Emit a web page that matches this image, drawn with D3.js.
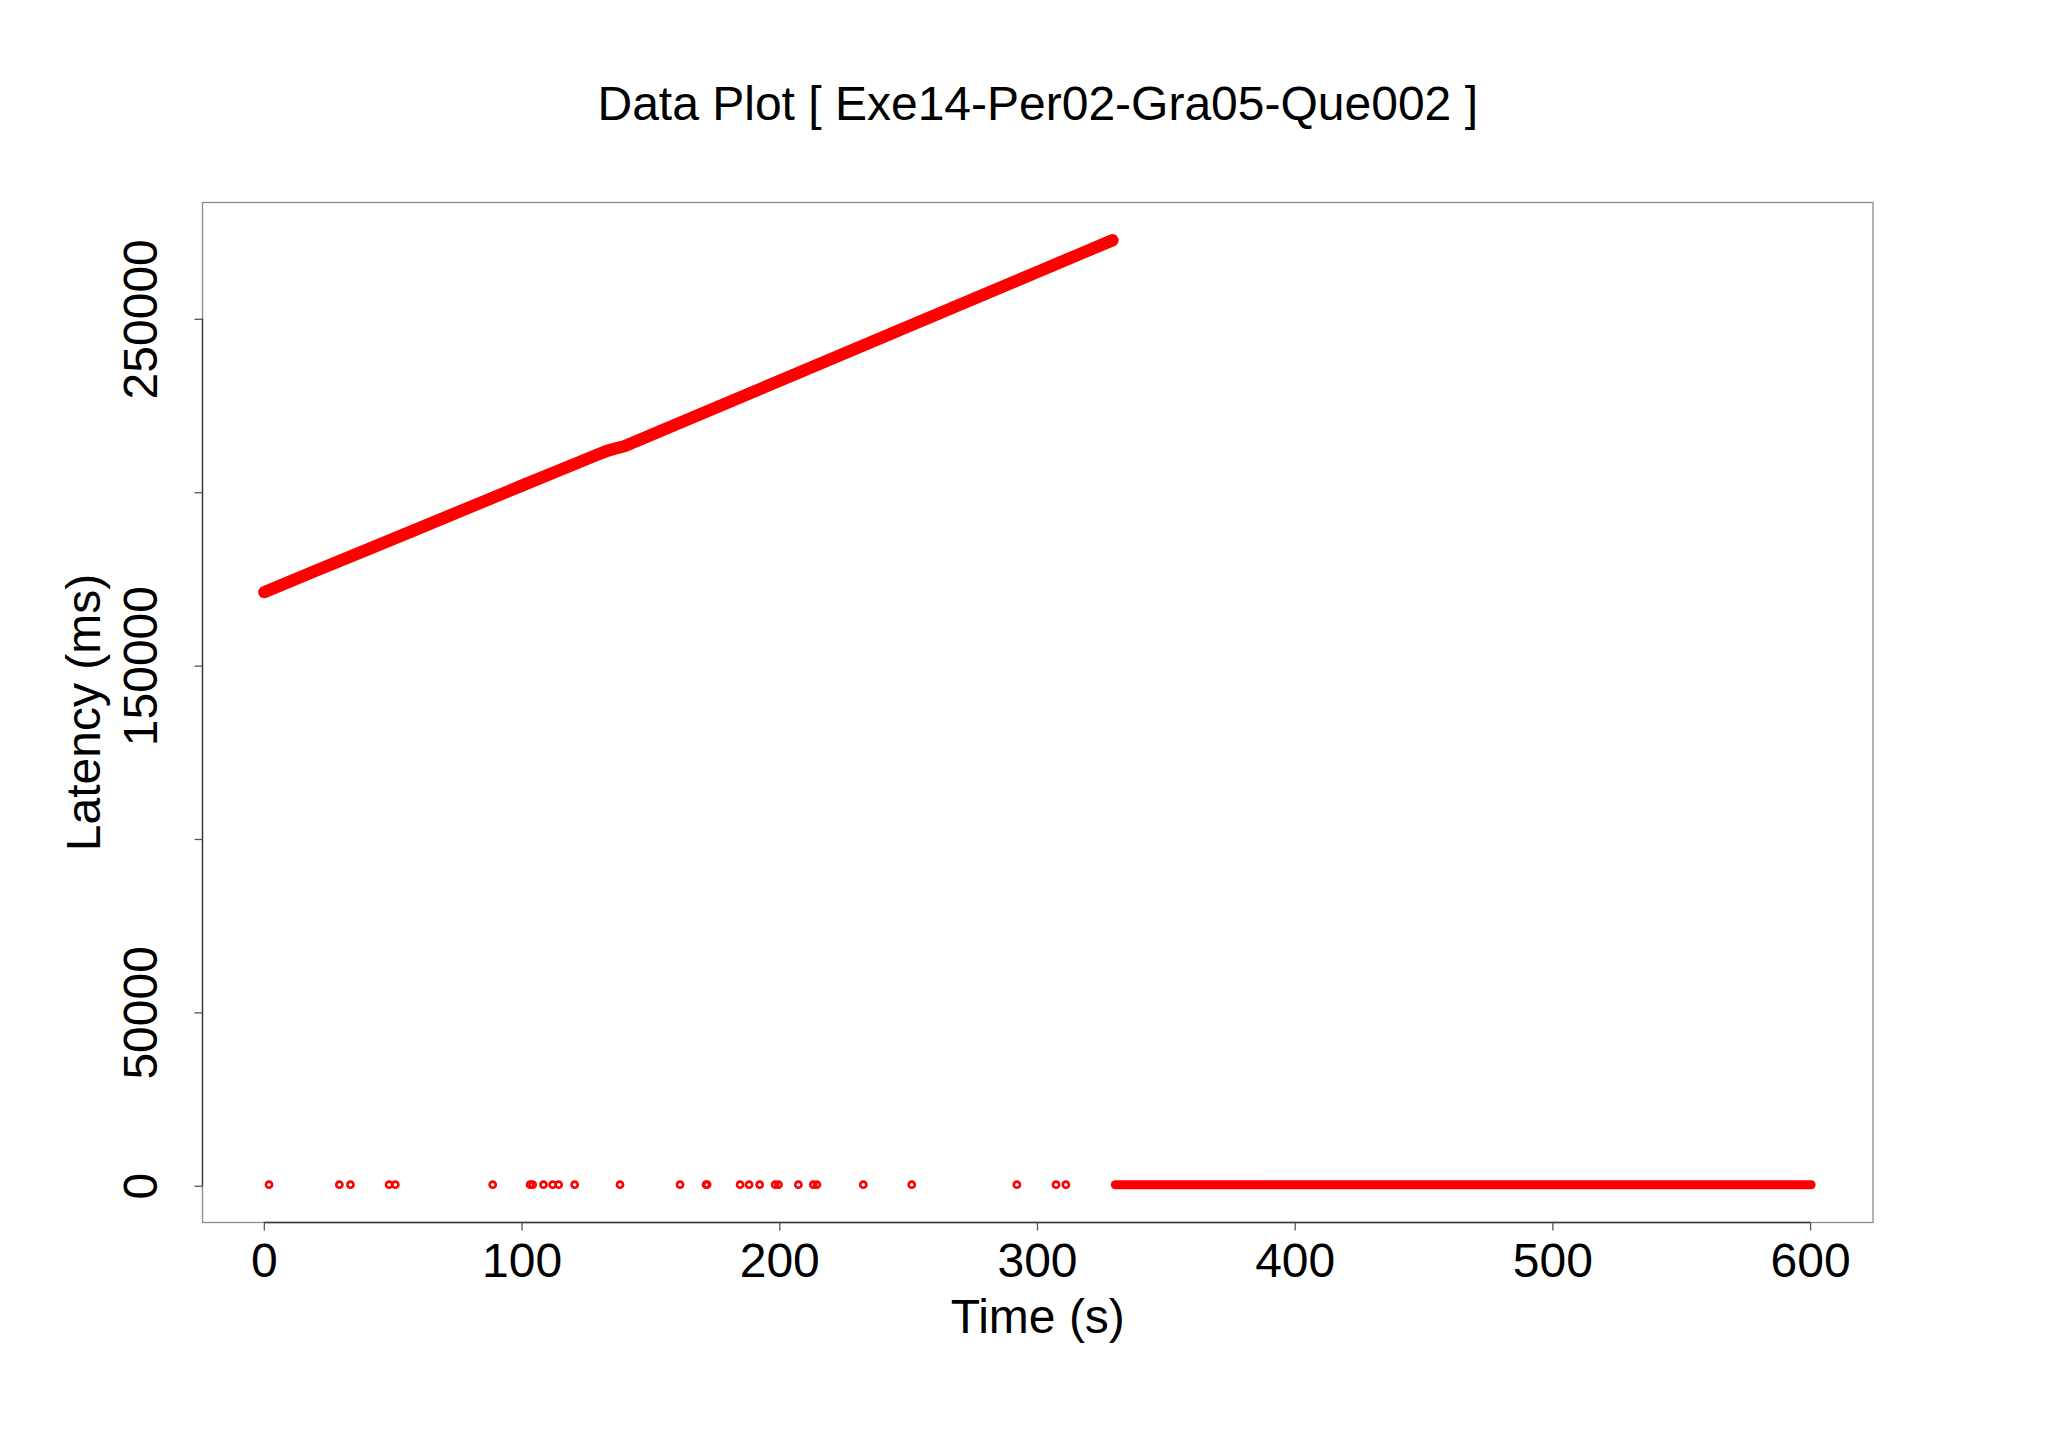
<!DOCTYPE html>
<html>
<head>
<meta charset="utf-8">
<script src="https://cdn.jsdelivr.net/npm/d3@7"></script>
<style>
  html, body { margin: 0; padding: 0; background: #ffffff; }
  svg { display: block; }
  text { font-family: "Liberation Sans", Arial, Helvetica, sans-serif; fill: #000; }
</style>
</head>
<body>
<svg id="chart" width="2048" height="1440"></svg>
<script>
// ---------------- data ----------------
const title = "Data Plot [ Exe14-Per02-Gra05-Que002 ]";
const xLabel = "Time (s)";
const yLabel = "Latency (ms)";

// upper series: dense, steadily growing latency (time s, latency ms)
const upperTimes   = [0.2, 20, 40, 60, 80, 100, 120, 129, 133, 137, 140, 160, 180, 200, 220, 240, 260, 280, 300, 320, 329.3];
const upperLatency = [171200, 177300, 183400, 189550, 195700, 201850, 207950, 210700, 211900, 212700, 213300, 219550, 225850, 232100, 238400, 244650, 250900, 257200, 263450, 269750, 272650];

// isolated near-zero latency samples
const lowTimes   = [2.0, 29.3, 33.6, 48.6, 51.0, 88.8, 103.3, 104.3, 108.5, 112.1, 114.4, 120.6, 138.2, 161.5, 171.6, 172.0, 184.8, 188.3, 192.4, 198.4, 199.7, 207.4, 213.2, 214.6, 232.6, 251.4, 292.2, 307.4, 311.2];
const lowLatency = [300, 300, 300, 300, 300, 300, 300, 300, 300, 300, 300, 300, 300, 300, 300, 300, 300, 300, 300, 300, 300, 300, 300, 300, 300, 300, 300, 300, 300];

// dense run of near-zero latency samples after ~331 s
const runTimes   = [330.4, 600.4];
const runLatency = [300, 300];

const xTicks = [0, 100, 200, 300, 400, 500, 600];
const xTickLabels = ["0", "100", "200", "300", "400", "500", "600"];
const yTicks = [0, 50000, 100000, 150000, 200000, 250000];
const yTickLabels = ["0", "50000", "", "150000", "", "250000"];

// ---------------- layout ----------------
const W = 2048, H = 1440;
const plot = { left: 202.5, right: 1873, top: 202.5, bottom: 1222.5 };
const RED = "#ff0000";

const svg = d3.select("#chart");
svg.append("rect").attr("width", W).attr("height", H).attr("fill", "#ffffff");

const allT = upperTimes.concat(lowTimes, runTimes);
const allV = upperLatency.concat(lowLatency, runLatency);
function padded(ext) { const r = ext[1] - ext[0]; return [ext[0] - 0.04 * r, ext[1] + 0.04 * r]; }

const x = d3.scaleLinear().domain(padded(d3.extent(allT))).range([plot.left, plot.right]);
const y = d3.scaleLinear().domain(padded(d3.extent(allV))).range([plot.bottom, plot.top]);

// plot box
svg.append("rect")
  .attr("x", plot.left).attr("y", plot.top)
  .attr("width", plot.right - plot.left).attr("height", plot.bottom - plot.top)
  .attr("fill", "none").attr("stroke", "#8a8a8a").attr("stroke-width", 1.3);

// x axis
const xAxis = svg.append("g").attr("transform", `translate(0,${plot.bottom})`)
  .call(d3.axisBottom(x).tickValues(xTicks).tickSize(8).tickSizeOuter(0)
        .tickFormat((d, i) => xTickLabels[i]));
xAxis.select(".domain").attr("d", `M${x(xTicks[0])},0H${x(xTicks[xTicks.length - 1])}`)
  .attr("stroke", "#333").attr("stroke-width", 1.3);
xAxis.selectAll(".tick line").attr("stroke", "#555").attr("stroke-width", 1.3);
xAxis.selectAll(".tick text")
  .attr("y", 54).attr("dy", 0)
  .style("font-size", "48px").style("font-family", "'Liberation Sans', Arial, sans-serif")
  .attr("fill", "#000");

// y axis
const yAxis = svg.append("g").attr("transform", `translate(${plot.left},0)`)
  .call(d3.axisLeft(y).tickValues(yTicks).tickSize(8).tickSizeOuter(0)
        .tickFormat((d, i) => yTickLabels[i]));
yAxis.select(".domain").attr("d", `M0,${y(yTicks[0])}V${y(yTicks[yTicks.length - 1])}`)
  .attr("stroke", "#333").attr("stroke-width", 1.3);
yAxis.selectAll(".tick line").attr("stroke", "#555").attr("stroke-width", 1.3);
yAxis.selectAll(".tick text")
  .attr("x", 0).attr("dy", 0)
  .attr("transform", "translate(-45.5,0) rotate(-90)")
  .attr("text-anchor", "middle")
  .style("font-size", "48px").style("font-family", "'Liberation Sans', Arial, sans-serif")
  .attr("fill", "#000");

// ---------------- marks ----------------
const upper = upperTimes.map((t, i) => [t, upperLatency[i]]);
const run = runTimes.map((t, i) => [t, runLatency[i]]);
const low = lowTimes.map((t, i) => [t, lowLatency[i]]);
const line = d3.line().x(d => x(d[0])).y(d => y(d[1]));

svg.append("path").datum(upper)
  .attr("d", line).attr("fill", "none").attr("stroke", RED)
  .attr("stroke-width", 12.3).attr("stroke-linecap", "round").attr("stroke-linejoin", "round");

svg.append("path").datum(run)
  .attr("d", line).attr("fill", "none").attr("stroke", RED)
  .attr("stroke-width", 9).attr("stroke-linecap", "round");

svg.append("g").selectAll("circle").data(low).join("circle")
  .attr("cx", d => x(d[0])).attr("cy", d => y(d[1])).attr("r", 3.1)
  .attr("fill", "none").attr("stroke", RED).attr("stroke-width", 2.6);

// ---------------- text ----------------
const cx = (plot.left + plot.right) / 2;
svg.append("text").attr("x", cx).attr("y", 120).attr("text-anchor", "middle")
  .style("font-size", "48px").text(title);
svg.append("text").attr("x", cx).attr("y", 1333).attr("text-anchor", "middle")
  .style("font-size", "48px").text(xLabel);
svg.append("text")
  .attr("transform", `translate(100,${(plot.top + plot.bottom) / 2}) rotate(-90)`)
  .attr("text-anchor", "middle").style("font-size", "48px").text(yLabel);
</script>
</body>
</html>
